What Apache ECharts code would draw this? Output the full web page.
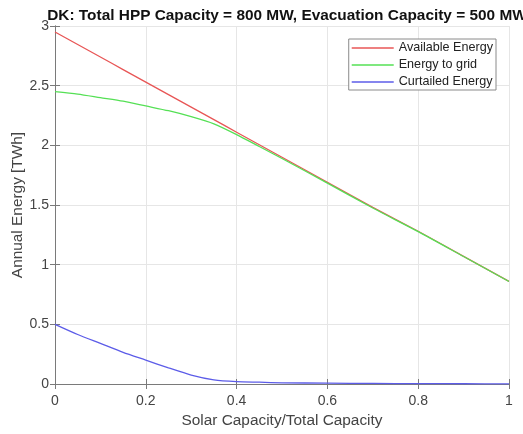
<!DOCTYPE html>
<html>
<head>
<meta charset="utf-8">
<script src="https://cdn.jsdelivr.net/npm/echarts@6/dist/echarts.min.js"></script>
<style>
  html, body { margin: 0; padding: 0; background: #fff; }
  #chart { width: 523px; height: 434px; }
</style>
</head>
<body>
<div id="chart"></div>
<script>
// Solar share of the hybrid plant (solar capacity / total capacity)
const solarShare = [0, 0.05, 0.1, 0.15, 0.2, 0.25, 0.3, 0.35, 0.4, 0.45, 0.5, 0.6, 0.7, 0.8, 0.9, 1];

// Annual energy, TWh
const availableEnergy = [2.95, 2.845, 2.74, 2.635, 2.53, 2.425, 2.32, 2.215, 2.11, 2.005, 1.90, 1.69, 1.48, 1.28, 1.07, 0.86];
const energyToGrid    = [2.45, 2.43, 2.40, 2.37, 2.33, 2.29, 2.24, 2.18, 2.09, 1.99, 1.89, 1.683, 1.475, 1.277, 1.068, 0.859];
const curtailedEnergy = [0.50, 0.415, 0.34, 0.265, 0.20, 0.135, 0.075, 0.035, 0.02, 0.015, 0.01, 0.007, 0.005, 0.003, 0.002, 0.001];

const seriesNames = ['Available Energy', 'Energy to grid', 'Curtailed Energy'];
const seriesColors = ['#e85656', '#55e055', '#5c5ce8'];

const xTicks = { min: 0, max: 1, interval: 0.2 };
const yTicks = { min: 0, max: 3, interval: 0.5 };

const titleText = 'DK: Total HPP Capacity = 800 MW, Evacuation Capacity = 500 MW';
const xLabel = 'Solar Capacity/Total Capacity';
const yLabel = 'Annual Energy [TWh]';

const FONT = '"Liberation Sans", Arial, Helvetica, sans-serif';
const AXIS_COLOR = '#7a7a7a';
const TEXT_COLOR = '#444';

function pairs(xs, ys) { return xs.map((x, i) => [x, ys[i]]); }

const chart = echarts.init(document.getElementById('chart'), null, { renderer: 'canvas' });

// box-style frame: ticks point inwards on all four sides
const frameAxis = {
  axisLine: { show: true, lineStyle: { color: AXIS_COLOR, width: 1 } },
  axisTick: { show: true, inside: true, length: 5, lineStyle: { color: AXIS_COLOR } },
};

chart.setOption({
  animation: false,
  backgroundColor: '#fff',
  title: {
    text: titleText,
    left: 282,
    textAlign: 'center',
    top: 3,
    textStyle: { fontFamily: FONT, fontSize: 15.4, fontWeight: 'bold', color: '#111' }
  },
  grid: { left: 55, right: 14, top: 26, bottom: 50, containLabel: false, outerBoundsMode: 'none' },
  legend: {
    data: seriesNames.map((n, i) => ({ name: n, itemStyle: { color: seriesColors[i] } })),
    orient: 'vertical',
    right: 27,
    top: 39,
    itemWidth: 42,
    itemHeight: 1.4,
    itemGap: 3,
    padding: [2, 3, 1, 3],
    icon: 'rect',
    backgroundColor: '#fff',
    borderColor: '#8a8a8a',
    borderWidth: 1,
    textStyle: { fontFamily: FONT, fontSize: 12.6, lineHeight: 14, color: '#222' }
  },
  xAxis: [
    Object.assign({
      type: 'value', position: 'bottom',
      min: xTicks.min, max: xTicks.max, interval: xTicks.interval,
      name: xLabel, nameLocation: 'middle', nameGap: 29, nameMoveOverlap: false,
      nameTextStyle: { fontFamily: FONT, fontSize: 15.4, color: TEXT_COLOR },
      axisLabel: { fontFamily: FONT, fontSize: 14, color: TEXT_COLOR, margin: 10 },
      splitLine: { show: true, lineStyle: { color: '#e6e6e6', width: 1 } }
    }, frameAxis),
    Object.assign({
      type: 'value', position: 'top',
      min: xTicks.min, max: xTicks.max, interval: xTicks.interval,
      axisLabel: { show: false }, splitLine: { show: false }
    }, frameAxis)
  ],
  yAxis: [
    Object.assign({
      type: 'value', position: 'left',
      min: yTicks.min, max: yTicks.max, interval: yTicks.interval,
      name: yLabel, nameLocation: 'middle', nameGap: 30, nameRotate: 90, nameMoveOverlap: false,
      nameTextStyle: { fontFamily: FONT, fontSize: 15.4, color: TEXT_COLOR },
      axisLabel: { fontFamily: FONT, fontSize: 14, color: TEXT_COLOR, margin: 6 },
      splitLine: { show: true, lineStyle: { color: '#e6e6e6', width: 1 } }
    }, frameAxis),
    Object.assign({
      type: 'value', position: 'right',
      min: yTicks.min, max: yTicks.max, interval: yTicks.interval,
      axisLabel: { show: false }, splitLine: { show: false }
    }, frameAxis)
  ],
  series: [
    { name: seriesNames[0], data: pairs(solarShare, availableEnergy) },
    { name: seriesNames[1], data: pairs(solarShare, energyToGrid) },
    { name: seriesNames[2], data: pairs(solarShare, curtailedEnergy) }
  ].map((s, i) => Object.assign({
    type: 'line',
    xAxisIndex: 0,
    yAxisIndex: 0,
    showSymbol: false,
    smooth: 0.25,
    color: seriesColors[i],
    itemStyle: { color: seriesColors[i] },
    lineStyle: { color: seriesColors[i], width: 1.3 }
  }, s))
});
</script>
</body>
</html>
